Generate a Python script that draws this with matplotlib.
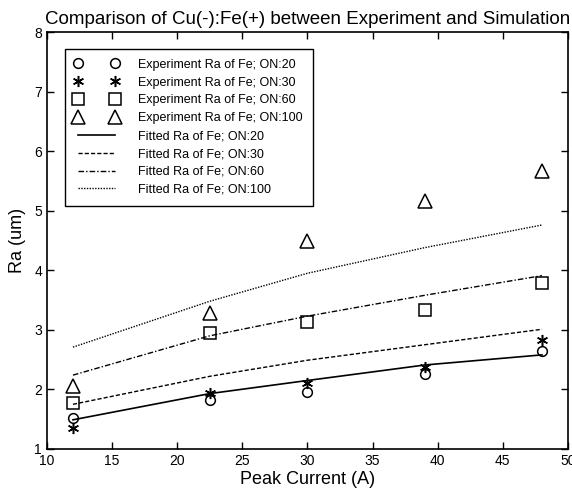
import matplotlib
matplotlib.use("Agg")
import matplotlib.pyplot as plt

plt.rcParams['font.family'] = ['Liberation Sans', 'DejaVu Sans']

peak_current = [12, 22.5, 30, 39, 48]
exp_on20 = [1.52, 1.82, 1.96, 2.26, 2.64]
exp_on30 = [1.35, 1.94, 2.11, 2.38, 2.83]
exp_on60 = [1.77, 2.95, 3.14, 3.33, 3.79]
exp_on100 = [2.06, 3.28, 4.49, 5.16, 5.66]
fit_on20 = [1.49, 1.93, 2.15, 2.41, 2.58]
fit_on30 = [1.75, 2.22, 2.49, 2.75, 3.01]
fit_on60 = [2.24, 2.90, 3.23, 3.58, 3.91]
fit_on100 = [2.71, 3.48, 3.95, 4.38, 4.76]

fig = plt.figure(figsize=(5.72, 5.0), dpi=100)
ax = fig.add_axes([0.082, 0.102, 0.911, 0.834])

mk = dict(linestyle='none', color='black', markerfacecolor='none', markersize=8, markeredgewidth=1.1)
ax.plot(peak_current, exp_on20, marker='o', label='Experiment Ra of Fe; ON:20', **{**mk, 'markersize': 7})
ax.plot(peak_current, exp_on30, marker=(6, 2, 0), label='Experiment Ra of Fe; ON:30', **mk)
ax.plot(peak_current, exp_on60, marker='s', label='Experiment Ra of Fe; ON:60', **mk)
ax.plot(peak_current, exp_on100, marker='^', label='Experiment Ra of Fe; ON:100', **{**mk, 'markersize': 10})
ax.plot(peak_current, fit_on20, color='black', linestyle='-', linewidth=1.2, label='Fitted Ra of Fe; ON:20')
ax.plot(peak_current, fit_on30, color='black', linestyle=(0, (3, 1.5)), linewidth=1.0, label='Fitted Ra of Fe; ON:30')
ax.plot(peak_current, fit_on60, color='black', linestyle=(0, (4, 1.5, 1, 1.5)), linewidth=1.0, label='Fitted Ra of Fe; ON:60')
ax.plot(peak_current, fit_on100, color='black', linestyle=(0, (1, 1)), linewidth=1.0, label='Fitted Ra of Fe; ON:100')

ax.set_xlim(10, 50)
ax.set_ylim(1, 8)
ax.set_xticks([10, 15, 20, 25, 30, 35, 40, 45, 50])
ax.set_yticks([1, 2, 3, 4, 5, 6, 7, 8])
ax.tick_params(direction='in', top=True, right=True, labelsize=10, length=5, width=1)
for s in ax.spines.values():
    s.set_linewidth(1.2)

ax.set_xlabel('Peak Current (A)', fontsize=13, labelpad=2)
ax.set_ylabel('Ra (um)', fontsize=13, labelpad=6)
ax.set_title('Comparison of Cu(-):Fe(+) between Experiment and Simulation', fontsize=13.5, pad=6)

leg = ax.legend(loc='upper left', bbox_to_anchor=(0.034, 0.96), borderaxespad=0, numpoints=2, fontsize=9,
                handlelength=3.5, handletextpad=1.6, labelspacing=0.47, fancybox=False,
                edgecolor='black', framealpha=1, borderpad=0.8)
leg.get_frame().set_linewidth(1.0)

fig.savefig('out.png', dpi=100)
